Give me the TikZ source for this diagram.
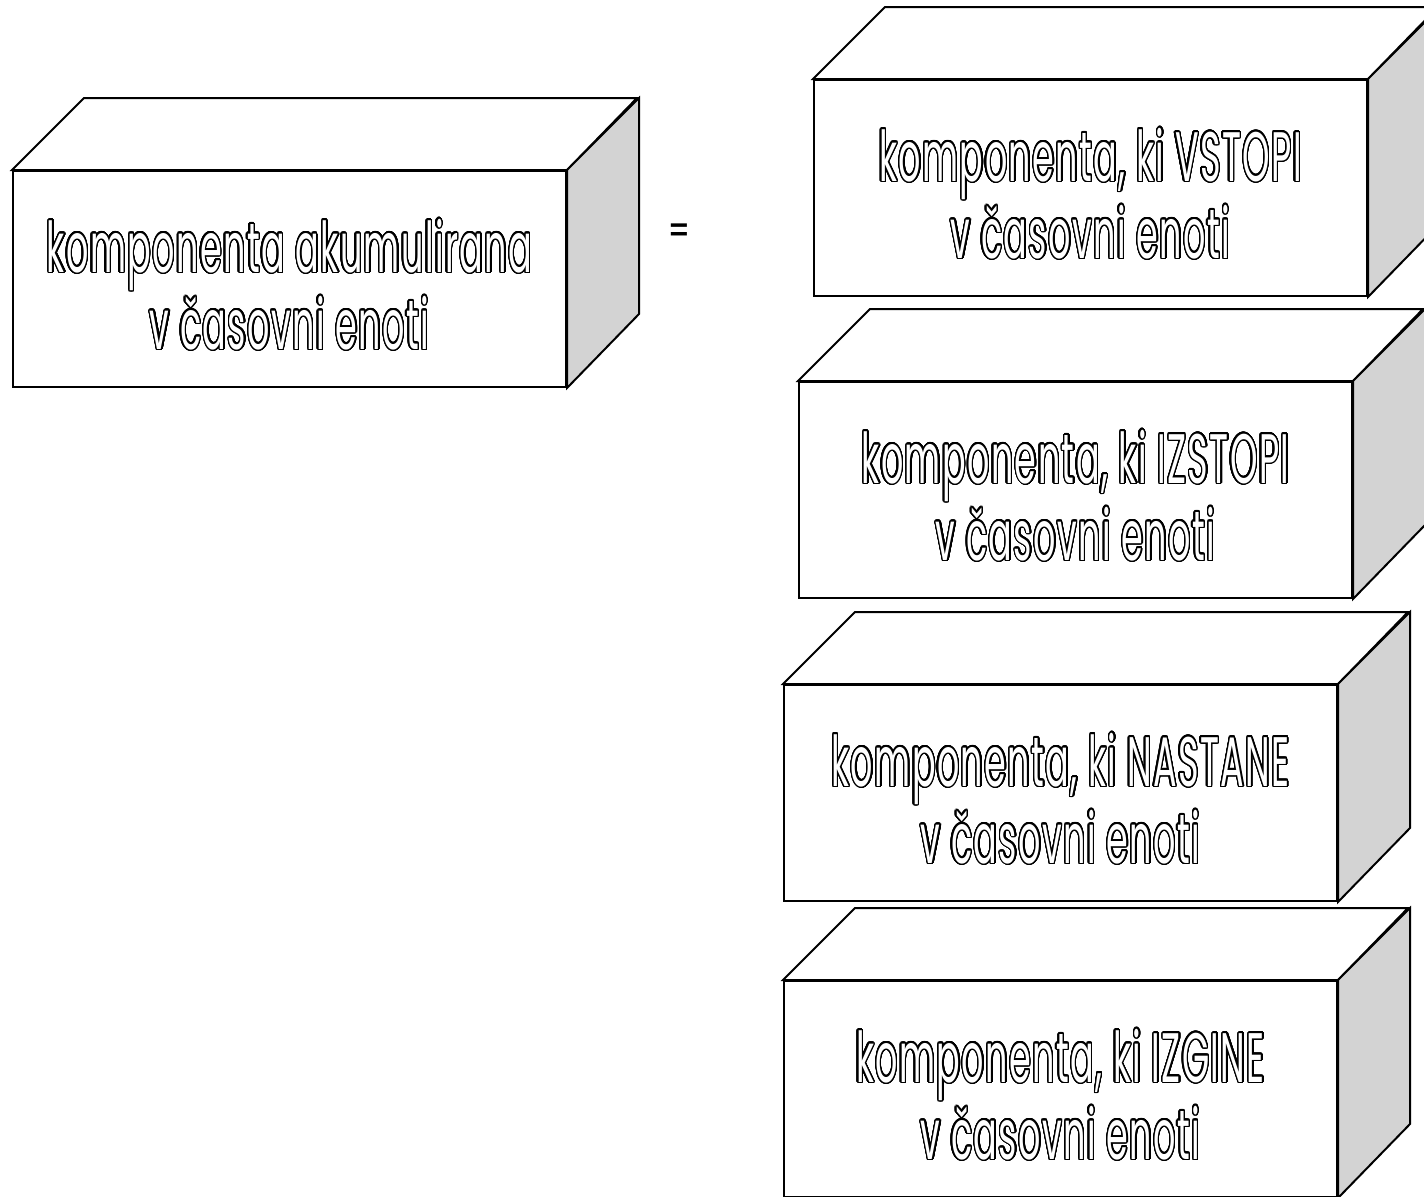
\documentclass[tikz,border=0pt]{standalone}
\usepackage{fontspec}
\usepackage{contour}
\newfontfamily\boxfont[FakeStretch=0.5,LetterSpace=2]{Poppins}
\newfontfamily\eqfont{Liberation Sans}
\contourlength{0.7pt}
\contournumber{32}
\definecolor{sidegray}{RGB}{211,211,211}
\newcommand{\outl}[1]{\textcolor{white}{\contour{black}{#1}}}
\tikzset{
  frontface/.style={draw=black, line width=1pt, fill=white, minimum width=276.5pt,
    minimum height=108pt, inner sep=0pt},
  facetext/.style={font=\boxfont\fontsize{35}{38.5}\selectfont, align=center, inner sep=0pt},
  topface/.style={draw=black, line width=1pt, fill=white, line join=miter},
  sideface/.style={draw=black, line width=1pt, fill=sidegray, line join=miter},
  eqsign/.style={font=\eqfont\bfseries\fontsize{16}{16}\selectfont, inner sep=0pt}
}
\newcommand{\cubebox}[4]{%
  \node[frontface, anchor=north west] (#1) at (#2,#3) {};
  \node[facetext] (#1-text) at ([yshift=-3pt]#1.center) {#4};
  \draw[topface] (#1.north west) -- ++(72,-72) -- ++(553,0) -- (#1.north east) -- cycle;
  \draw[sideface] (#1.north east) -- ++(72,-72) -- ++(0,216) -- (#1.south east) -- cycle;
}
\begin{document}
\begin{tikzpicture}[x=0.5pt,y=-0.5pt]
  \useasboundingbox (0,0) rectangle (1424,1196);
  \clip (0,0) rectangle (1424,1196);
  \cubebox{acc}{12}{170}{\outl{komponenta akumulirana}\\\outl{v časovni enoti}}
  \cubebox{vstopi}{813}{79}{\outl{komponenta, ki VSTOPI}\\\outl{v časovni enoti}}
  \cubebox{izstopi}{798}{381}{\outl{komponenta, ki IZSTOPI}\\\outl{v časovni enoti}}
  \cubebox{nastane}{783}{684}{\outl{komponenta, ki NASTANE}\\\outl{v časovni enoti}}
  \cubebox{izgine}{783}{980}{\outl{komponenta, ki IZGINE}\\\outl{v časovni enoti}}
  \node[eqsign] (eq) at (679,232) {=};
\end{tikzpicture}
\end{document}
